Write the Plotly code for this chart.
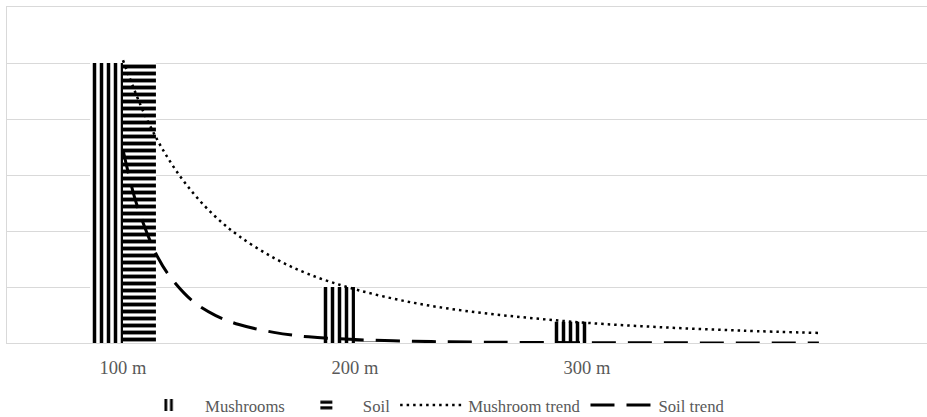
import plotly.graph_objects as go

# Distance categories (x positions 1..4; the fourth slot has no label)
category_pos = [1, 2, 3, 4]
tick_labels = ["100 m", "200 m", "300 m", ""]

# Bar values per category
mushrooms = [5.0, 1.0, 0.38, None]
soil = [5.0, 0.02, 0.01, None]

# Trend curves, sampled along the x axis
mush_trend_x = [1.0, 1.1, 1.2, 1.3, 1.4, 1.5, 1.65, 1.8, 2.0, 2.25, 2.5, 2.75, 3.0, 3.33, 3.67, 4.0]
mush_trend_y = [5.05, 4.02, 3.26, 2.69, 2.25, 1.91, 1.52, 1.23, 0.96, 0.72, 0.56, 0.45, 0.36, 0.28, 0.22, 0.18]

soil_trend_x = [1.0, 1.05, 1.1, 1.15, 1.2, 1.3, 1.4, 1.5, 1.65, 1.8, 2.0, 2.25, 2.5, 3.0, 3.5, 4.0]
soil_trend_y = [3.45, 2.60, 2.00, 1.53, 1.20, 0.75, 0.49, 0.33, 0.19, 0.11, 0.062, 0.031, 0.017, 0.006, 0.002, 0.001]

FONT = "Liberation Serif"
GREY_TEXT = "#595959"
GRID = "#d9d9d9"

fig = go.Figure()

fig.add_trace(go.Bar(
    x=category_pos, y=mushrooms, name="Mushrooms",
    marker=dict(color="white", line=dict(width=0),
                pattern=dict(shape="|", fgcolor="black", bgcolor="white",
                             fgopacity=1, size=7, solidity=0.5)),
))
fig.add_trace(go.Bar(
    x=category_pos, y=soil, name="Soil",
    marker=dict(color="white", line=dict(width=0),
                pattern=dict(shape="-", fgcolor="black", bgcolor="white",
                             fgopacity=1, size=7, solidity=0.55)),
))
fig.add_trace(go.Scatter(
    x=mush_trend_x, y=mush_trend_y, name="Mushroom trend", mode="lines",
    line=dict(color="black", width=2.5, dash="2.5px,4px", shape="spline"),
))
fig.add_trace(go.Scatter(
    x=soil_trend_x, y=soil_trend_y, name="Soil trend", mode="lines",
    line=dict(color="black", width=3, dash="24px,12px", shape="spline"),
))

fig.update_layout(
    width=927, height=417,
    margin=dict(l=7, r=0, t=7, b=74, autoexpand=False),
    paper_bgcolor="white", plot_bgcolor="white",
    barmode="group", bargap=0.716, bargroupgap=0,
    font=dict(family=FONT, size=17, color=GREY_TEXT),
    showlegend=True,
    legend=dict(orientation="h", x=0.136, xanchor="left", y=-0.185, yanchor="middle",
                font=dict(family=FONT, size=16.7, color=GREY_TEXT),
                itemwidth=63, traceorder="normal", bgcolor="rgba(0,0,0,0)"),
)

fig.update_xaxes(
    range=[0.5, 4.466], tickmode="array", tickvals=category_pos, ticktext=tick_labels,
    showgrid=False, zeroline=False, showline=True, mirror=True, linecolor=GRID, linewidth=1,
    ticks="", ticklabelstandoff=8, automargin=False,
    tickfont=dict(family=FONT, size=18.5, color=GREY_TEXT),
)
fig.update_yaxes(
    range=[0, 6], dtick=1, showgrid=True, gridcolor=GRID, gridwidth=1,
    zeroline=False, showline=True, linecolor=GRID, linewidth=1,
    showticklabels=False, ticks="", automargin=False,
)

fig.write_html("out.html")
